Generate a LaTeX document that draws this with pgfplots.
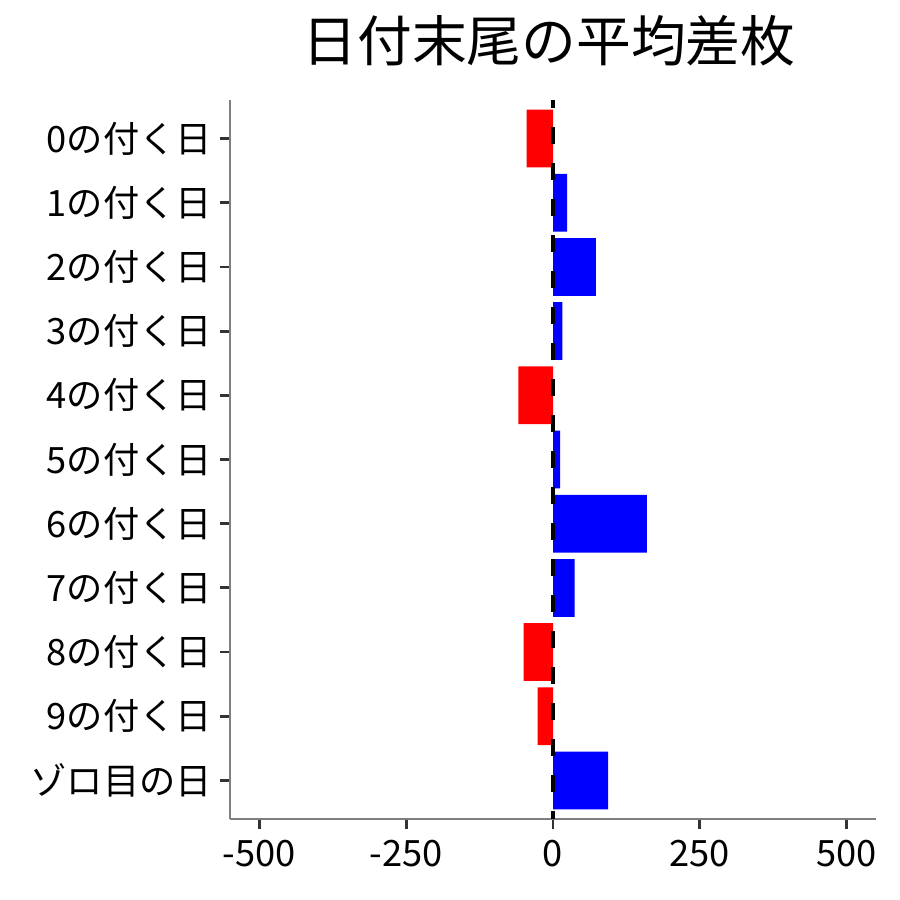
\documentclass[border=0pt]{standalone}
\usepackage{pgfplots}
\pgfplotsset{compat=1.18}
\usepackage{fontspec}
\setmainfont{Noto Sans CJK JP}

\definecolor{axgray}{HTML}{7F7F7F}
\definecolor{tickgray}{HTML}{333333}

\begin{document}
\begin{tikzpicture}
\path[use as bounding box] (-115bp,-40.5bp) rectangle (335bp,409.5bp);
\begin{axis}[
    scale only axis,
    width=323bp, height=359.5bp,
    xmin=-550, xmax=550,
    ymin=-0.6, ymax=10.6,
    y dir=reverse,
    axis x line*=bottom,
    axis y line*=left,
    axis line style={axgray, line width=0.6bp},
    xtick={-500,-250,0,250,500},
    xticklabels={-500,-250,0,250,500},
    ytick={0,1,2,3,4,5,6,7,8,9,10},
    yticklabels={0の付く日,1の付く日,2の付く日,3の付く日,4の付く日,5の付く日,6の付く日,7の付く日,8の付く日,9の付く日,ゾロ目の日},
    tick align=outside,
    major tick length=5bp,
    tick style={tickgray, line width=1.4bp},
    ticklabel style={font=\fontsize{18.2}{18.2}\selectfont, text=black},
    yticklabel style={xshift=-0.5bp},
    xticklabel style={yshift=-2bp},
    xbar, bar shift=0pt, bar width=0.9,
    title={日付末尾の平均差枚},
    title style={at={(0.5,1)}, anchor=center, yshift=23.5bp, xshift=-2bp,
                 font=\fontsize{27.5}{27.5}\selectfont},
]
% negative days
\addplot[fill=red, draw=none] coordinates {
    (-45,0) (-59,4) (-50,8) (-26,9)
};
% positive days
\addplot[fill=blue, draw=none] coordinates {
    (24,1) (73,2) (16,3) (12,5) (160,6) (37,7) (94,10)
};
\draw[black, line width=2bp, dash pattern=on 8.5bp off 9.5bp, dash phase=4.5bp]
    (axis cs:0,-0.6) -- (axis cs:0,10.6);
\end{axis}
\end{tikzpicture}
\end{document}
